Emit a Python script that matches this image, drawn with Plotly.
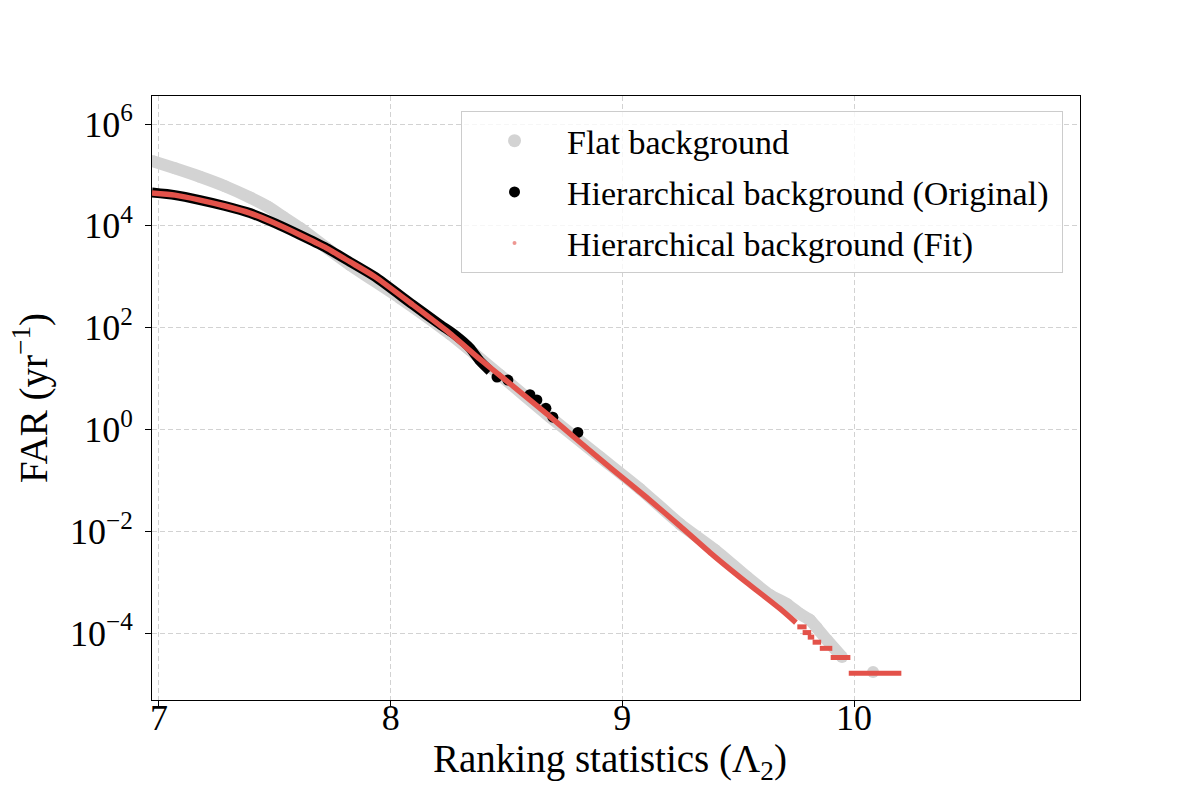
import plotly.graph_objects as go

# ---------------- data ----------------
# Flat background (grey)
flat_x = [6.970, 7.069, 7.177, 7.285, 7.393, 7.470, 7.535, 7.609, 7.716, 7.825,
          8.040, 8.256, 8.472, 8.688, 8.903, 9.076, 9.249, 9.400, 9.538, 9.637,
          9.710, 9.767, 9.810, 9.840, 9.883, 9.948]
flat_far = [1.88e5, 1.35e5, 9.2e4, 6.0e4, 3.6e4, 2.37e4, 1.51e4, 9.06e3, 3.9e3, 1.70e3,
            382, 74.8, 11.7, 1.75, 0.287, 0.0675, 0.0138, 4.28e-3, 1.26e-3, 5.58e-4,
            3.72e-4, 2.36e-4, 1.80e-4, 1.25e-4, 7.3e-5, 3.37e-5]
flat_iso_x = [10.082]
flat_iso_far = [1.71e-5]

# Hierarchical background (Original) (black)
orig_x = [6.970, 7.069, 7.177, 7.285, 7.393, 7.501, 7.609, 7.716, 7.825, 7.932,
          8.096, 8.213, 8.278, 8.342, 8.385, 8.429]
orig_far = [4.5e4, 4.0e4, 3.2e4, 2.45e4, 1.78e4, 1.12e4, 6.6e3, 3.8e3, 1.95e3, 1.0e3,
            2.8e2, 115, 72, 40, 22, 14]
orig_dot_x = [8.459, 8.506, 8.601, 8.631, 8.670, 8.700, 8.808]
orig_dot_far = [10.7, 9.3, 4.8, 3.8, 2.6, 1.74, 0.87]

# Hierarchical background (Fit) (red)
fit_x = [6.970, 7.069, 7.177, 7.285, 7.393, 7.501, 7.609, 7.716, 7.825, 7.932,
         8.096, 8.243, 8.385, 8.528, 8.675, 8.817, 8.959, 9.102, 9.249, 9.391,
         9.534, 9.680, 9.749]
fit_far = [4.4e4, 4.0e4, 3.2e4, 2.45e4, 1.78e4, 1.12e4, 6.6e3, 3.8e3, 1.95e3, 1.0e3,
           2.8e2, 86, 24, 7.1, 2.0, 0.56, 0.16, 0.047, 0.0126, 0.0034,
           1.0e-3, 3.0e-4, 1.6e-4]
# quantised tail of the fit: (start, end, FAR)
step_x0 = [9.755, 9.778, 9.800, 9.821, 9.852, 9.899, 9.977]
step_x1 = [9.795, 9.815, 9.828, 9.858, 9.906, 9.984, 10.204]
step_far = [1.32e-4, 1.02e-4, 8.3e-5, 6.6e-5, 5.0e-5, 3.3e-5, 1.62e-5]

y_tickvals = [1e-4, 1e-2, 1e0, 1e2, 1e4, 1e6]
y_ticktext = ["10<sup>\u22124</sup>", "10<sup>\u22122</sup>", "10<sup>0</sup>",
              "10<sup>2</sup>", "10<sup>4</sup>", "10<sup>6</sup>"]
x_tickvals = [7, 8, 9, 10]

GREY = "#d3d3d3"
BLACK = "#000000"
RED = "#e3524a"
FONT = "Liberation Serif"
GRID = "#d2d2d2"
NB = "\u00a0"

fig = go.Figure()

# grey band
fig.add_trace(go.Scatter(
    x=flat_x + [None] + flat_iso_x, y=flat_far + [None] + flat_iso_far,
    mode="lines+markers", line=dict(color=GREY, width=12, shape="spline", smoothing=0.6),
    marker=dict(color=GREY, size=12), showlegend=False, hoverinfo="skip"))

# black band + dots
fig.add_trace(go.Scatter(
    x=orig_x, y=orig_far, mode="lines",
    line=dict(color=BLACK, width=10, shape="spline", smoothing=0.6),
    showlegend=False, hoverinfo="skip"))
fig.add_trace(go.Scatter(
    x=orig_dot_x, y=orig_dot_far, mode="markers",
    marker=dict(color=BLACK, size=11), showlegend=False, hoverinfo="skip"))

# red fit line
fig.add_trace(go.Scatter(
    x=fit_x, y=fit_far, mode="lines",
    line=dict(color=RED, width=5.5, shape="spline", smoothing=0.6),
    showlegend=False, hoverinfo="skip"))
sx, sy = [], []
for a, b, f in zip(step_x0, step_x1, step_far):
    sx += [a, b, None]
    sy += [f, f, None]
fig.add_trace(go.Scatter(
    x=sx, y=sy, mode="lines", line=dict(color=RED, width=5),
    showlegend=False, hoverinfo="skip"))

# legend entries
fig.add_trace(go.Scatter(x=[None], y=[None], mode="markers",
                         name="Flat background" + NB,
                         marker=dict(color=GREY, size=13), legendgroup="a"))
fig.add_trace(go.Scatter(x=[None], y=[None], mode="markers",
                         name="Hierarchical background (Original)" + NB,
                         marker=dict(color=BLACK, size=11), legendgroup="b"))
fig.add_trace(go.Scatter(x=[None], y=[None], mode="markers",
                         name="Hierarchical background (Fit)" + NB,
                         marker=dict(color=RED, size=4, opacity=0.6), legendgroup="c"))

fig.update_layout(
    width=1200, height=800,
    margin=dict(l=152, r=120, t=96, b=100),
    plot_bgcolor="white", paper_bgcolor="white",
    font=dict(family=FONT, color="black"),
    legend=dict(
        x=0.9817, y=0.975, xanchor="right", yanchor="top",
        bgcolor="rgba(255,255,255,0.8)", bordercolor="#cccccc", borderwidth=1,
        font=dict(size=34, family=FONT), traceorder="grouped", tracegroupgap=4,
        itemwidth=95),
    xaxis=dict(
        range=[6.970, 10.975], tickvals=x_tickvals, ticks="outside", ticklen=6,
        tickcolor="black", showline=True, mirror=True, linecolor="black", linewidth=1,
        showgrid=True, gridcolor=GRID, griddash="5px,3px", gridwidth=1.2,
        zeroline=False, tickfont=dict(size=36, family=FONT), ticklabelstandoff=-20,
        automargin=False),
    yaxis=dict(
        type="log", range=[-5.316, 6.550], tickvals=y_tickvals, ticktext=y_ticktext,
        ticks="outside", ticklen=6, tickcolor="black", showline=True, mirror=True,
        linecolor="black", linewidth=1, showgrid=True, gridcolor=GRID,
        griddash="5px,3px", gridwidth=1.2, zeroline=False, automargin=False,
        tickfont=dict(size=36, family=FONT), ticklabelstandoff=5,
        title=dict(text="FAR (yr<sup>\u22121</sup>)", font=dict(size=39, family=FONT),
                   standoff=10)),
    annotations=[dict(
        text="Ranking statistics (\u039b<sub>2</sub>)", xref="paper", yref="paper",
        x=0.494, y=-0.102, xanchor="center", yanchor="middle", showarrow=False,
        font=dict(size=39, family=FONT, color="black"))],
)

fig.write_html("out.html", config={"displayModeBar": False},
               post_script="document.body.style.margin='0';")
